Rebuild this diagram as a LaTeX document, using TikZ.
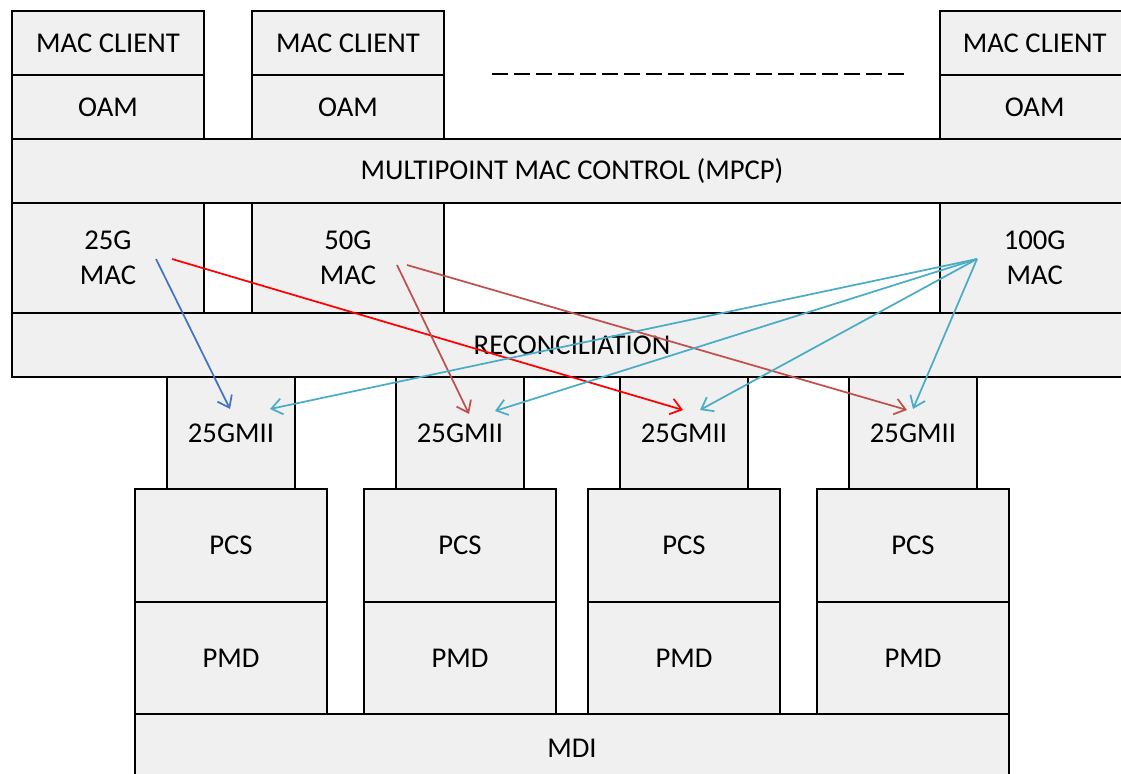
\documentclass[tikz,border=0pt]{standalone}
\usepackage{fontspec}
\setmainfont{Carlito}
\usetikzlibrary{arrows.meta, positioning}
\definecolor{boxgray}{RGB}{240,240,240}
\definecolor{lnblue}{RGB}{68,114,196}
\definecolor{lnred}{RGB}{255,0,0}
\definecolor{lnbrown}{RGB}{192,80,77}
\definecolor{lncyan}{RGB}{75,172,198}

\begin{document}
\begin{tikzpicture}[
      x=1pt, y=-1pt,
      font=\fontsize{21.5}{26}\selectfont,
      box/.style={rectangle, draw, line width=1.4pt, fill=boxgray, anchor=north west,
        inner sep=0pt, outer sep=0pt, text centered, align=center},
      wide/.style={box, minimum width=144pt, minimum height=48pt},
      macbox/.style={box, minimum width=144pt, minimum height=82.5pt},
      gmii/.style={box, minimum width=96pt, minimum height=84pt},
      phy/.style={box, minimum width=144pt, minimum height=84.75pt},
      arrow/.style={-{Straight Barb[length=8pt, width=12pt]}, line width=1.3pt}
    ]
      \clip (0,0) rectangle (840.75,580.5);
      \useasboundingbox (0,0) rectangle (840.75,580.5);

      % Clients
      \node[wide] (client1) at (9,8.25) {MAC CLIENT};
      \node[wide] (client2) at (189,8.25) {MAC CLIENT};
      \node[wide, minimum width=142pt] (client3) at (705,8.25) {MAC CLIENT};
      \node[wide, below=0pt of client1.south west, anchor=north west] (oam1) {OAM};
      \node[wide, below=0pt of client2.south west, anchor=north west] (oam2) {OAM};
      \node[wide, minimum width=142pt, below=0pt of client3.south west, anchor=north west] (oam3) {OAM};
      \draw[line width=1.5pt, dash pattern=on 12pt off 4.5pt] (369,55.5) -- (678,55.5);

      % MPCP
      \node[box, minimum width=840pt, minimum height=48pt] (mpcp) at (9,104.25)
        {MULTIPOINT MAC CONTROL (MPCP)};

      % MACs
      \node[macbox] (mac25) at (9,152.25) {25G\\MAC};
      \node[macbox] (mac50) at (189,152.25) {50G\\MAC};
      \node[macbox, minimum width=142pt] (mac100) at (705,152.25) {100G\\MAC};

      % Reconciliation
      \node[box, minimum width=840pt, minimum height=48pt] (recon) at (9,234.75)
        {RECONCILIATION};

      % 25GMII
      \node[gmii] (gmiiA) at (125.25,282.75) {\raisebox{-3pt}{25GMII}};
      \node[gmii] (gmiiB) at (297,282.75) {\raisebox{-3pt}{25GMII}};
      \node[gmii] (gmiiC) at (465,282.75) {\raisebox{-3pt}{25GMII}};
      \node[gmii] (gmiiD) at (636.75,282.75) {\raisebox{-3pt}{25GMII}};

      % PCS / PMD
      \node[phy] (pcsA) at (101.25,366.75) {PCS};
      \node[phy] (pcsB) at (273,366.75) {PCS};
      \node[phy] (pcsC) at (441,366.75) {PCS};
      \node[phy] (pcsD) at (612.75,366.75) {PCS};
      \node[phy] (pmdA) at (101.25,451.5) {PMD};
      \node[phy] (pmdB) at (273,451.5) {PMD};
      \node[phy] (pmdC) at (441,451.5) {PMD};
      \node[phy] (pmdD) at (612.75,451.5) {PMD};

      % MDI
      \node[box, minimum width=655.5pt, minimum height=66pt] (mdi) at (101.25,535.5)
        {\raisebox{14pt}{MDI}};

      % arrow ends
      \coordinate (s25a) at (117,194.25);
      \coordinate (s25b) at (129,194.25);
      \coordinate (s50a) at (297.75,198.75);
      \coordinate (s50b) at (305.25,198.75);
      \coordinate (s100) at (732.75,194.25);
      \coordinate (tA1) at (172.5,306.75);
      \coordinate (tA2) at (202.5,306.75);
      \coordinate (tB1) at (351.75,310.5);
      \coordinate (tB2) at (371.25,308.25);
      \coordinate (tC1) at (512.25,307.5);
      \coordinate (tC2) at (525,307.5);
      \coordinate (tD1) at (680.25,307.5);
      \coordinate (tD2) at (684.75,306.75);

      % Draw arrows
      \draw[arrow, lnblue] (s25a) -- (tA1);
      \draw[arrow, lnred] (s25b) -- (tC1);
      \draw[arrow, lnbrown] (s50a) -- (tB1);
      \draw[arrow, lnbrown] (s50b) -- (tD1);
      \draw[arrow, lncyan] (s100) -- (tA2);
      \draw[arrow, lncyan] (s100) -- (tB2);
      \draw[arrow, lncyan] (s100) -- (tC2);
      \draw[arrow, lncyan] (s100) -- (tD2);
    \end{tikzpicture}
\end{document}
